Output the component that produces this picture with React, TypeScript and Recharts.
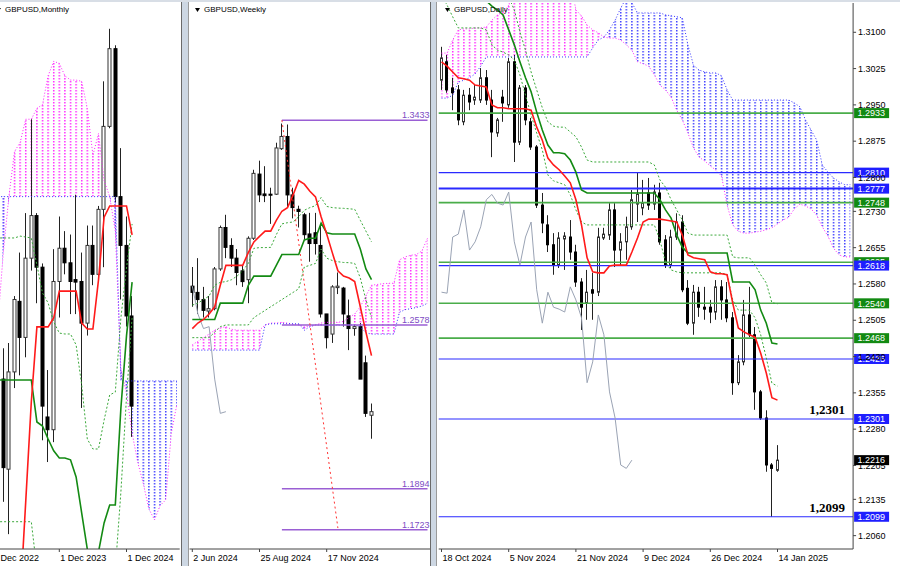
import React from 'react';
import { ComposedChart, Bar, Line, Area, XAxis, YAxis, ReferenceLine } from 'recharts';

// ---------- GBPUSD Monthly (Dec 2022 .. Jan 2025, cloud runs on to Sep 2025) ----------
const monthlyTickIdx = [0, 12, 24];
const monthlyTickLabels = ['1 Dec 2022', '1 Dec 2023', '1 Dec 2024'];
// [open, high, low, close]
const monthlyOHLC = [
  [1.2059, 1.2447, 1.1992, 1.2097],
  [1.2097, 1.2448, 1.1841, 1.2337],
  [1.2313, 1.2412, 1.1918, 1.2028],
  [1.2023, 1.2429, 1.1814, 1.2336],
  [1.2336, 1.2580, 1.2284, 1.2569],
  [1.2563, 1.2720, 1.2325, 1.2447],
  [1.2447, 1.2847, 1.2383, 1.2702],
  [1.2702, 1.3149, 1.2662, 1.2839],
  [1.2839, 1.2847, 1.2557, 1.2673],
  [1.2673, 1.2685, 1.2116, 1.2226],
  [1.2191, 1.2342, 1.2046, 1.2150],
  [1.2150, 1.2731, 1.2110, 1.2627],
  [1.2627, 1.2836, 1.2511, 1.2734],
  [1.2734, 1.2789, 1.2650, 1.2687],
  [1.2687, 1.2778, 1.2522, 1.2627],
  [1.2633, 1.2906, 1.2522, 1.2625],
  [1.2627, 1.2720, 1.2220, 1.2493],
  [1.2493, 1.2807, 1.2453, 1.2743],
  [1.2743, 1.2807, 1.2615, 1.2650],
  [1.2650, 1.2870, 1.2627, 1.2859],
  [1.2859, 1.3271, 1.2673, 1.3126],
  [1.3126, 1.3440, 1.3120, 1.3376],
  [1.3376, 1.3387, 1.2882, 1.2900],
  [1.2900, 1.3056, 1.2569, 1.2743],
  [1.2743, 1.2836, 1.2482, 1.2516],
  [1.2516, 1.2580, 1.2127, 1.2226],
];
const monthlyTenkan = [1.1550, 1.1550, 1.1550, 1.1550, 1.1550, 1.1600, 1.1917, 1.2239, 1.2481, 1.2481, 1.2481, 1.2510, 1.2596, 1.2596, 1.2596, 1.2596, 1.2493, 1.2474, 1.2474, 1.2632, 1.2834, 1.2870, 1.2870, 1.2870, 1.2870, 1.2777];
const monthlyKijun = [1.2310, 1.2310, 1.2310, 1.2310, 1.2310, 1.2310, 1.2310, 1.2310, 1.2175, 1.2162, 1.2120, 1.2082, 1.2059, 1.2059, 1.2053, 1.1998, 1.1882, 1.1766, 1.1721, 1.1757, 1.1850, 1.1908, 1.1908, 1.2220, 1.2452, 1.2625];
const monthlyDotUp = [1.2767, 1.2767, 1.2767, 1.2767, 1.2767, 1.2773, 1.2770, 1.2767, 1.2680, 1.2590, 1.2558, 1.2497, 1.2461, 1.2458, 1.2458, 1.2423, 1.2294, 1.2120, 1.2088, 1.2088, 1.2181, 1.2262, 1.2271, 1.2510, 1.2670, 1.2812];
const monthlyDotLo = [1.1854, 1.1854, 1.1854, 1.1854, 1.1854, 1.1854, 1.1854, 1.1854, 1.1700, 1.1700, 1.1700, 1.1700, 1.1700, 1.1700, 1.1700, 1.1700, 1.1700, 1.1700, 1.1700, 1.1700, 1.1700, 1.1700, 1.1700, 1.1950, 1.2255, 1.2511];
const monthlySpanA = [1.2300, 1.2487, 1.2720, 1.2900, 1.3045, 1.3074, 1.3149, 1.3149, 1.3184, 1.3196, 1.3289, 1.3335, 1.3329, 1.3289, 1.3275, 1.3275, 1.3271, 1.3184, 1.3033, 1.3103, 1.2952, 1.2900, 1.2789, 1.2348, 1.2267, 1.2139, 1.2046, 1.1976, 1.1895, 1.1860, 1.1906, 1.1924, 1.2139, 1.2232];
const monthlySpanB = [1.2900, 1.2900, 1.2900, 1.2900, 1.2900, 1.2900, 1.2900, 1.2900, 1.2900, 1.2900, 1.2900, 1.2900, 1.2900, 1.2900, 1.2900, 1.2900, 1.2900, 1.2900, 1.2900, 1.2900, 1.2900, 1.2900, 1.2900, 1.2307, 1.2307, 1.2307, 1.2307, 1.2307, 1.2307, 1.2307, 1.2307, 1.2307, 1.2307, 1.2307];

// ---------- GBPUSD Weekly (2 Jun 2024 .. 12 Jan 2025) ----------
const weeklyTickIdx = [0, 12, 24];
const weeklyTickLabels = ['2 Jun 2024', '25 Aug 2024', '17 Nov 2024'];
const weeklyOHLC = [
  [1.2740, 1.2820, 1.2654, 1.2714],
  [1.2714, 1.2857, 1.2624, 1.2684],
  [1.2684, 1.2737, 1.2609, 1.2639],
  [1.2636, 1.2699, 1.2609, 1.2646],
  [1.2646, 1.2820, 1.2639, 1.2812],
  [1.2812, 1.2993, 1.2804, 1.2985],
  [1.2985, 1.3038, 1.2857, 1.2902],
  [1.2910, 1.2940, 1.2820, 1.2857],
  [1.2857, 1.2895, 1.2744, 1.2797],
  [1.2804, 1.2827, 1.2737, 1.2759],
  [1.2767, 1.2948, 1.2669, 1.2940],
  [1.2940, 1.3226, 1.2933, 1.3211],
  [1.3208, 1.3264, 1.3091, 1.3121],
  [1.3125, 1.3241, 1.3091, 1.3118],
  [1.3124, 1.3151, 1.3000, 1.3121],
  [1.3124, 1.3339, 1.3121, 1.3317],
  [1.3314, 1.3419, 1.3309, 1.3365],
  [1.3365, 1.3415, 1.3068, 1.3121],
  [1.3121, 1.3151, 1.3023, 1.3068],
  [1.3061, 1.3076, 1.2985, 1.3052],
  [1.3038, 1.3046, 1.2933, 1.2955],
  [1.2958, 1.3046, 1.2842, 1.2918],
  [1.2963, 1.3046, 1.2872, 1.2918],
  [1.2910, 1.3000, 1.2609, 1.2624],
  [1.2624, 1.2624, 1.2480, 1.2525],
  [1.2540, 1.2744, 1.2503, 1.2737],
  [1.2734, 1.2797, 1.2707, 1.2740],
  [1.2732, 1.2737, 1.2571, 1.2624],
  [1.2616, 1.2684, 1.2473, 1.2563],
  [1.2563, 1.2578, 1.2533, 1.2571],
  [1.2571, 1.2586, 1.2352, 1.2352],
  [1.2420, 1.2450, 1.2194, 1.2209],
  [1.2201, 1.2250, 1.2103, 1.2216],
];
const weeklyTenkan = [1.2563, 1.2586, 1.2601, 1.2624, 1.2654, 1.2744, 1.2827, 1.2827, 1.2827, 1.2827, 1.2880, 1.2925, 1.2948, 1.2970, 1.2970, 1.3015, 1.3053, 1.3068, 1.3121, 1.3181, 1.3166, 1.3136, 1.3113, 1.3030, 1.2958, 1.2880, 1.2804, 1.2782, 1.2774, 1.2759, 1.2654, 1.2548, 1.2450];
const weeklyKijun = [1.2601, 1.2601, 1.2601, 1.2601, 1.2601, 1.2669, 1.2669, 1.2669, 1.2669, 1.2669, 1.2744, 1.2782, 1.2782, 1.2782, 1.2782, 1.2827, 1.2872, 1.2872, 1.2872, 1.2872, 1.2933, 1.2940, 1.2940, 1.3003, 1.2963, 1.2958, 1.2958, 1.2958, 1.2958, 1.2958, 1.2895, 1.2812, 1.2767];
const weeklyDotUp = [1.2661, 1.2669, 1.2684, 1.2699, 1.2744, 1.2756, 1.2759, 1.2767, 1.2782, 1.2804, 1.2835, 1.2898, 1.2901, 1.2901, 1.2902, 1.2955, 1.3000, 1.3005, 1.3008, 1.3030, 1.3057, 1.3068, 1.3076, 1.3110, 1.3073, 1.3068, 1.3066, 1.3065, 1.3063, 1.3061, 1.3015, 1.2970, 1.2925];
const weeklyDotLo = [1.2525, 1.2525, 1.2525, 1.2525, 1.2548, 1.2571, 1.2578, 1.2578, 1.2578, 1.2578, 1.2578, 1.2609, 1.2624, 1.2639, 1.2654, 1.2669, 1.2684, 1.2699, 1.2714, 1.2729, 1.2820, 1.2827, 1.2835, 1.2895, 1.2857, 1.2847, 1.2842, 1.2839, 1.2838, 1.2835, 1.2774, 1.2684, 1.2609];
const weeklySpanA = [1.2495, 1.2510, 1.2525, 1.2540, 1.2556, 1.2566, 1.2571, 1.2560, 1.2556, 1.2556, 1.2556, 1.2556, 1.2556, 1.2578, 1.2586, 1.2586, 1.2589, 1.2586, 1.2581, 1.2578, 1.2571, 1.2571, 1.2578, 1.2586, 1.2589, 1.2589, 1.2589, 1.2593, 1.2609, 1.2624, 1.2654, 1.2699, 1.2744, 1.2747, 1.2750, 1.2752, 1.2752, 1.2850, 1.2862, 1.2869, 1.2872, 1.2887, 1.2940];
const weeklySpanB = [1.2473, 1.2473, 1.2473, 1.2473, 1.2473, 1.2473, 1.2473, 1.2473, 1.2473, 1.2473, 1.2473, 1.2473, 1.2473, 1.2578, 1.2583, 1.2583, 1.2583, 1.2583, 1.2583, 1.2583, 1.2556, 1.2571, 1.2578, 1.2578, 1.2578, 1.2578, 1.2578, 1.2578, 1.2578, 1.2578, 1.2571, 1.2545, 1.2540, 1.2540, 1.2540, 1.2540, 1.2540, 1.2631, 1.2642, 1.2646, 1.2651, 1.2657, 1.2669];
const weeklyLevels = [1.3433, 1.2578, 1.1894, 1.1723];
const weeklyLevelFrom = 16;
const weeklyLevelTo = 42;
const weeklyTrend = [[16, 1.3433], [26, 1.1730]];

// ---------- GBPUSD Daily (18 Oct 2024 .. 14 Jan 2025) ----------
const dailyTickIdx = [0, 12, 24, 36, 48, 60];
const dailyTickLabels = ['18 Oct 2024', '5 Nov 2024', '21 Nov 2024', '9 Dec 2024', '26 Dec 2024', '14 Jan 2025'];
const dailyPriceTicks = [1.3100, 1.3025, 1.2950, 1.2875, 1.2800, 1.2730, 1.2655, 1.2580, 1.2505, 1.2430, 1.2355, 1.2280, 1.2205, 1.2135, 1.2060];
const dailyOHLC = [
  [1.3001, 1.3070, 1.2981, 1.3047],
  [1.3039, 1.3053, 1.2975, 1.2981],
  [1.2985, 1.3006, 1.2939, 1.2975],
  [1.2981, 1.2991, 1.2908, 1.2919],
  [1.2915, 1.2981, 1.2908, 1.2970],
  [1.2970, 1.2985, 1.2939, 1.2956],
  [1.2960, 1.2991, 1.2950, 1.2966],
  [1.2960, 1.3026, 1.2954, 1.3006],
  [1.3006, 1.3022, 1.2950, 1.2960],
  [1.2960, 1.2981, 1.2842, 1.2894],
  [1.2892, 1.2923, 1.2884, 1.2919],
  [1.2966, 1.2981, 1.2915, 1.2954],
  [1.2950, 1.3047, 1.2944, 1.3039],
  [1.3039, 1.3053, 1.2832, 1.2873],
  [1.2873, 1.2991, 1.2867, 1.2985],
  [1.2985, 1.2991, 1.2908, 1.2919],
  [1.2915, 1.2923, 1.2857, 1.2863],
  [1.2863, 1.2867, 1.2737, 1.2743],
  [1.2743, 1.2768, 1.2685, 1.2706],
  [1.2702, 1.2722, 1.2646, 1.2661],
  [1.2661, 1.2685, 1.2599, 1.2619],
  [1.2619, 1.2687, 1.2613, 1.2675],
  [1.2673, 1.2687, 1.2609, 1.2679],
  [1.2677, 1.2712, 1.2630, 1.2646],
  [1.2646, 1.2661, 1.2574, 1.2584],
  [1.2584, 1.2592, 1.2485, 1.2532],
  [1.2540, 1.2609, 1.2506, 1.2563],
  [1.2568, 1.2603, 1.2506, 1.2561],
  [1.2563, 1.2696, 1.2555, 1.2677],
  [1.2675, 1.2696, 1.2671, 1.2683],
  [1.2681, 1.2747, 1.2671, 1.2733],
  [1.2733, 1.2747, 1.2615, 1.2650],
  [1.2650, 1.2685, 1.2619, 1.2667],
  [1.2667, 1.2719, 1.2630, 1.2698],
  [1.2698, 1.2774, 1.2692, 1.2754],
  [1.2745, 1.2811, 1.2708, 1.2765],
  [1.2737, 1.2795, 1.2722, 1.2747],
  [1.2768, 1.2799, 1.2733, 1.2743],
  [1.2745, 1.2785, 1.2733, 1.2770],
  [1.2768, 1.2789, 1.2661, 1.2667],
  [1.2671, 1.2681, 1.2613, 1.2619],
  [1.2619, 1.2692, 1.2613, 1.2677],
  [1.2677, 1.2726, 1.2671, 1.2708],
  [1.2708, 1.2722, 1.2563, 1.2568],
  [1.2571, 1.2588, 1.2495, 1.2499],
  [1.2499, 1.2578, 1.2475, 1.2563],
  [1.2563, 1.2574, 1.2512, 1.2532],
  [1.2532, 1.2574, 1.2506, 1.2528],
  [1.2532, 1.2547, 1.2499, 1.2522],
  [1.2522, 1.2588, 1.2506, 1.2574],
  [1.2574, 1.2588, 1.2506, 1.2547],
  [1.2547, 1.2584, 1.2501, 1.2510],
  [1.2510, 1.2522, 1.2351, 1.2376],
  [1.2376, 1.2433, 1.2371, 1.2419],
  [1.2419, 1.2547, 1.2412, 1.2516],
  [1.2516, 1.2574, 1.2470, 1.2475],
  [1.2475, 1.2491, 1.2320, 1.2357],
  [1.2357, 1.2361, 1.2299, 1.2303],
  [1.2303, 1.2319, 1.2192, 1.2206],
  [1.2206, 1.2210, 1.2099, 1.2199],
  [1.2195, 1.2247, 1.2192, 1.2216],
];
const dailyTenkan = [1.3039, 1.3030, 1.3018, 1.3006, 1.3004, 1.3001, 1.2991, 1.2989, 1.2987, 1.2950, 1.2944, 1.2944, 1.2942, 1.2942, 1.2942, 1.2942, 1.2939, 1.2904, 1.2877, 1.2840, 1.2826, 1.2816, 1.2803, 1.2789, 1.2754, 1.2702, 1.2634, 1.2605, 1.2603, 1.2603, 1.2617, 1.2619, 1.2619, 1.2619, 1.2646, 1.2675, 1.2708, 1.2714, 1.2714, 1.2714, 1.2712, 1.2710, 1.2708, 1.2681, 1.2640, 1.2634, 1.2632, 1.2630, 1.2605, 1.2601, 1.2601, 1.2599, 1.2541, 1.2489, 1.2481, 1.2475, 1.2470, 1.2437, 1.2396, 1.2345, 1.2340];
const dailyKijun = [1.3200, 1.3200, 1.3200, 1.3200, 1.3200, 1.3200, 1.3200, 1.3175, 1.3165, 1.3154, 1.3146, 1.3136, 1.3105, 1.3074, 1.3039, 1.3006, 1.2977, 1.2935, 1.2898, 1.2867, 1.2851, 1.2851, 1.2849, 1.2836, 1.2811, 1.2774, 1.2768, 1.2768, 1.2768, 1.2768, 1.2768, 1.2768, 1.2768, 1.2768, 1.2768, 1.2768, 1.2768, 1.2768, 1.2768, 1.2754, 1.2733, 1.2716, 1.2681, 1.2656, 1.2644, 1.2644, 1.2644, 1.2644, 1.2644, 1.2644, 1.2644, 1.2644, 1.2584, 1.2584, 1.2584, 1.2584, 1.2568, 1.2526, 1.2499, 1.2458, 1.2456];
const dailyDotUp = [1.3187, 1.3187, 1.3187, 1.3187, 1.3187, 1.3187, 1.3187, 1.3187, 1.3187, 1.3187, 1.3187, 1.3187, 1.3173, 1.3146, 1.3101, 1.3063, 1.3018, 1.2981, 1.2944, 1.2915, 1.2906, 1.2904, 1.2904, 1.2894, 1.2884, 1.2863, 1.2836, 1.2832, 1.2832, 1.2832, 1.2832, 1.2832, 1.2832, 1.2832, 1.2832, 1.2832, 1.2832, 1.2832, 1.2826, 1.2795, 1.2780, 1.2754, 1.2733, 1.2712, 1.2685, 1.2681, 1.2681, 1.2681, 1.2681, 1.2681, 1.2681, 1.2681, 1.2636, 1.2634, 1.2634, 1.2634, 1.2619, 1.2599, 1.2582, 1.2541, 1.2539];
const dailyDotLo = [1.3177, 1.3156, 1.3132, 1.3109, 1.3109, 1.3109, 1.3109, 1.3109, 1.3105, 1.3074, 1.3063, 1.3059, 1.3053, 1.3043, 1.3012, 1.2970, 1.2929, 1.2892, 1.2857, 1.2805, 1.2793, 1.2789, 1.2785, 1.2764, 1.2733, 1.2708, 1.2702, 1.2702, 1.2702, 1.2702, 1.2702, 1.2702, 1.2702, 1.2702, 1.2702, 1.2702, 1.2702, 1.2702, 1.2702, 1.2671, 1.2625, 1.2609, 1.2605, 1.2603, 1.2603, 1.2603, 1.2603, 1.2603, 1.2603, 1.2603, 1.2603, 1.2599, 1.2547, 1.2526, 1.2526, 1.2526, 1.2510, 1.2475, 1.2427, 1.2375, 1.2369];
const dailySpanA = [1.3057, 1.3057, 1.3084, 1.3105, 1.3107, 1.3107, 1.3109, 1.3109, 1.3111, 1.3125, 1.3136, 1.3142, 1.3156, 1.3208, 1.3208, 1.3208, 1.3208, 1.3208, 1.3208, 1.3208, 1.3208, 1.3208, 1.3208, 1.3208, 1.3146, 1.3134, 1.3115, 1.3105, 1.3099, 1.3090, 1.3088, 1.3088, 1.3084, 1.3074, 1.3063, 1.3039, 1.3035, 1.3030, 1.3012, 1.2991, 1.2981, 1.2966, 1.2939, 1.2919, 1.2892, 1.2861, 1.2842, 1.2834, 1.2824, 1.2815, 1.2803, 1.2743, 1.2702, 1.2689, 1.2685, 1.2685, 1.2687, 1.2689, 1.2692, 1.2696, 1.2704, 1.2712, 1.2718, 1.2735, 1.2745, 1.2741, 1.2735, 1.2722, 1.2698, 1.2679, 1.2654, 1.2640, 1.2636, 1.2636];
const dailySpanB = [1.2964, 1.2964, 1.2970, 1.2997, 1.3001, 1.3006, 1.3014, 1.3030, 1.3049, 1.3049, 1.3049, 1.3049, 1.3049, 1.3049, 1.3049, 1.3049, 1.3049, 1.3049, 1.3049, 1.3049, 1.3049, 1.3049, 1.3049, 1.3049, 1.3049, 1.3049, 1.3049, 1.3068, 1.3084, 1.3090, 1.3105, 1.3125, 1.3150, 1.3171, 1.3161, 1.3140, 1.3140, 1.3140, 1.3140, 1.3140, 1.3136, 1.3134, 1.3132, 1.3130, 1.3074, 1.3032, 1.3022, 1.3018, 1.3016, 1.3016, 1.3010, 1.2981, 1.2960, 1.2960, 1.2960, 1.2960, 1.2960, 1.2960, 1.2960, 1.2960, 1.2960, 1.2960, 1.2960, 1.2954, 1.2946, 1.2919, 1.2898, 1.2877, 1.2826, 1.2811, 1.2799, 1.2791, 1.2785, 1.2785];
const dailyLevels = [1.2933, 1.2810, 1.2777, 1.2748, 1.2625, 1.2618, 1.2540, 1.2468, 1.2425, 1.2301, 1.2099];
const dailyLevelKind = ['g', 'b', 'b', 'g', 'g', 'b', 'g', 'g', 'b', 'b', 'b'];
const dailyLast = 1.2216;
const dailyMarked = [1.2301, 1.2099];

const GREEN_LINE = '#4aad4a';
const GREEN_TAG = '#128a12';
const BLUE_LINE = '#2a2aff';
const BLUE_TAG = '#1e1eff';
const PURPLE = '#9a5fd4';

const isAbove = (a: any, b: any) => a != null && b != null && a >= b;
const isBelow = (a: any, b: any) => a != null && b != null && a < b;

// one row per bar slot: candle range + ichimoku lines + the two cloud halves
function buildRows(count: number, ohlc: number[][], tenkan: number[], kijun: number[], dotUp: number[], dotLo: number[], spanA: number[], spanB: number[], chikouShift: number) {
  const rows: any[] = [];
  for (let i = 0; i < count; i++) {
    const c = ohlc[i];
    const a = spanA[i];
    const b = spanB[i];
    const pink = isAbove(a, b) || isAbove(spanA[i - 1], spanB[i - 1]) || isAbove(spanA[i + 1], spanB[i + 1]);
    const blue = isBelow(a, b) || isBelow(spanA[i - 1], spanB[i - 1]) || isBelow(spanA[i + 1], spanB[i + 1]);
    const later = chikouShift ? ohlc[i + chikouShift] : undefined;
    rows.push({
      idx: i,
      candle: c ? [c[2], c[1]] : null,
      o: c ? c[0] : null,
      h: c ? c[1] : null,
      l: c ? c[2] : null,
      c: c ? c[3] : null,
      tenkan: tenkan[i] ?? null,
      kijun: kijun[i] ?? null,
      dotUp: dotUp[i] ?? null,
      dotLo: dotLo[i] ?? null,
      spanA: a ?? null,
      spanB: b ?? null,
      chikou: later ? later[3] : null,
      pink: a != null && b != null && pink ? [b, a] : null,
      blue: a != null && b != null && blue ? [a, b] : null,
    });
  }
  return rows;
}

const monthlyRows = buildRows(34, monthlyOHLC, monthlyTenkan, monthlyKijun, monthlyDotUp, monthlyDotLo, monthlySpanA, monthlySpanB, 0);
const weeklyRows = buildRows(43, weeklyOHLC, weeklyTenkan, weeklyKijun, weeklyDotUp, weeklyDotLo, weeklySpanA, weeklySpanB, 26);
const dailyRows = buildRows(74, dailyOHLC, dailyTenkan, dailyKijun, dailyDotUp, dailyDotLo, dailySpanA, dailySpanB, 26);

const Candle = (props: any) => {
  const { x, y, width, height, payload, bodyW } = props;
  if (!payload || payload.o == null) return null;
  const top = Math.min(y, y + height);
  const bot = Math.max(y, y + height);
  const span = payload.h - payload.l;
  const py = (v: number) => (span > 0 ? top + ((payload.h - v) / span) * (bot - top) : top);
  const cx = Math.floor(x + width / 2) + 0.5;
  const yo = py(payload.o);
  const yc = py(payload.c);
  const up = payload.c >= payload.o;
  const bt = Math.min(yo, yc);
  const bh = Math.max(Math.abs(yc - yo), 1);
  return (
    <g>
      <line x1={cx} x2={cx} y1={top} y2={bot} stroke="#222" strokeWidth={1} />
      <rect x={cx - bodyW / 2} y={bt} width={bodyW} height={bh} fill={up ? '#fff' : '#000'} stroke={up ? '#333' : '#000'} strokeWidth={1} />
    </g>
  );
};

const TimeTick = (props: any) => {
  const { x, y, payload, tickIdx, labels } = props;
  const k = tickIdx.indexOf(payload.value);
  if (k < 0) return null;
  return (
    <g>
      <line x1={x} x2={x} y1={y} y2={y + 3} stroke="#444" />
      <text x={x + 1} y={y + 12} fontSize={9} fill="#000">{labels[k]}</text>
    </g>
  );
};

const priceTag = (text: string, bg: string, note?: string) => (p: any) => {
  const vb = p.viewBox || {};
  const right = (vb.x ?? 0) + (vb.width ?? 0);
  const y = vb.y ?? 0;
  return (
    <g>
      {note ? (
        <text x={right - 8} y={y - 5} textAnchor="end" fontSize={13} fontWeight="bold" fontFamily='"Liberation Serif", "Times New Roman", serif' fill="#000">{note}</text>
      ) : null}
      <rect x={right + 1} y={y - 5} width={35} height={10} fill={bg} />
      <text x={right + 4.5} y={y + 3.3} fontSize={9} fill="#fff">{text}</text>
    </g>
  );
};

const segmentTag = (text: string) => (p: any) => {
  const vb = p.viewBox || {};
  const right = (vb.x ?? 0) + (vb.width ?? 0);
  return (
    <text x={right + 2} y={(vb.y ?? 0) - 2} textAnchor="end" fontSize={9} fill="#7d4cc4">{text}</text>
  );
};

function IchimokuPanel(props: any) {
  const { rows, width, margin, domain, tickIdx, tickLabels, id, bodyW, priceTicks, extra } = props;
  // dotted hatch: one dotted column per bar slot, lined up with the bar centres
  const hatchX = margin.left + 2.8 - 0.75;
  return (
    <ComposedChart width={width} height={566} data={rows} margin={margin}>
      <defs>
        <pattern id={id + 'Pink'} x={hatchX} y={0} width={5.6} height={3} patternUnits="userSpaceOnUse">
          <rect x={0} y={0} width={1.5} height={1.5} fill="#ff30ff" />
        </pattern>
        <pattern id={id + 'Blue'} x={hatchX} y={0} width={5.6} height={3} patternUnits="userSpaceOnUse">
          <rect x={0} y={0} width={1.5} height={1.5} fill="#4040ff" />
        </pattern>
      </defs>
      <XAxis
        dataKey="idx"
        type="category"
        ticks={tickIdx}
        interval={0}
        tickSize={0}
        tickMargin={0}
        tickLine={false}
        axisLine={{ stroke: '#444' }}
        height={17}
        tick={<TimeTick tickIdx={tickIdx} labels={tickLabels} />}
      />
      {priceTicks ? (
        <YAxis
          orientation="right"
          type="number"
          domain={domain}
          allowDataOverflow
          ticks={priceTicks}
          interval={0}
          width={46.9}
          tickSize={3}
          tickMargin={2}
          axisLine={{ stroke: '#444' }}
          tickLine={{ stroke: '#444' }}
          tick={{ fontSize: 9, fill: '#000' }}
          tickFormatter={(v: number) => v.toFixed(4)}
        />
      ) : (
        <YAxis hide type="number" domain={domain} allowDataOverflow />
      )}
      <Area dataKey="pink" type="linear" stroke="none" fill={`url(#${id}Pink)`} fillOpacity={1} isAnimationActive={false} />
      <Area dataKey="blue" type="linear" stroke="none" fill={`url(#${id}Blue)`} fillOpacity={1} isAnimationActive={false} />
      <Line dataKey="spanA" stroke="#ff22ff" strokeWidth={1} strokeDasharray="1 2" dot={false} activeDot={false} isAnimationActive={false} />
      <Line dataKey="spanB" stroke="#3535ff" strokeWidth={1} strokeDasharray="1 2" dot={false} activeDot={false} isAnimationActive={false} />
      {extra}
      <Line dataKey="dotUp" stroke="#3aa83a" strokeWidth={1} strokeDasharray="2 2" dot={false} activeDot={false} isAnimationActive={false} />
      <Line dataKey="dotLo" stroke="#3aa83a" strokeWidth={1} strokeDasharray="2 2" dot={false} activeDot={false} isAnimationActive={false} />
      <Line dataKey="chikou" stroke="#9aa3b4" strokeWidth={1} dot={false} activeDot={false} isAnimationActive={false} />
      <Line dataKey="kijun" stroke="#138a13" strokeWidth={1.6} dot={false} activeDot={false} isAnimationActive={false} />
      <Line dataKey="tenkan" stroke="#ff1a1a" strokeWidth={1.6} dot={false} activeDot={false} isAnimationActive={false} />
      <Bar dataKey="candle" isAnimationActive={false} shape={(p: any) => <Candle {...p} bodyW={bodyW} />} />
    </ComposedChart>
  );
}

const Title = ({ left, text }: { left: number; text: string }) => (
  <div style={{ position: 'absolute', left, top: 5, height: 9, fontSize: 8, lineHeight: '9px', color: '#000', whiteSpace: 'nowrap', pointerEvents: 'none' }}>
    <svg width={5} height={4} style={{ marginRight: 4, verticalAlign: 'middle' }}>
      <polygon points="0,0 5,0 2.5,4" fill="#000" />
    </svg>
    {text}
  </div>
);

const separator = (left: number, width: number) => (
  <div
    style={{
      position: 'absolute', left, top: 0, width, height: 566, boxSizing: 'border-box',
      background: '#cdd7e3', borderLeft: '1px solid #6a6a6a', borderRight: '1px solid #9a9a9a',
    }}
  />
);

export default function App() {
  const weeklyExtra = [
    ...weeklyLevels.map((v, i) => (
      <ReferenceLine
        key={'wl' + i}
        segment={[{ x: weeklyLevelFrom, y: v }, { x: weeklyLevelTo, y: v }]}
        stroke={PURPLE}
        strokeWidth={1.5}
        label={segmentTag(v.toFixed(4))}
      />
    )),
    <ReferenceLine
      key="wtrend"
      segment={[{ x: weeklyTrend[0][0], y: weeklyTrend[0][1] }, { x: weeklyTrend[1][0], y: weeklyTrend[1][1] }]}
      stroke="#ff3030"
      strokeWidth={1}
      strokeDasharray="2 3"
    />,
  ];

  const dailyExtra = [
    ...dailyLevels.map((v, i) => {
      const g = dailyLevelKind[i] === 'g';
      const note = dailyMarked.includes(v) ? v.toFixed(4).replace('.', ',') : undefined;
      return (
        <ReferenceLine
          key={'dl' + i}
          y={v}
          stroke={g ? GREEN_LINE : BLUE_LINE}
          strokeWidth={g ? 1.6 : v === 1.2777 ? 2 : 1.2}
          label={priceTag(v.toFixed(4), g ? GREEN_TAG : BLUE_TAG, note)}
        />
      );
    }),
    <ReferenceLine key="last" y={dailyLast} stroke="none" label={priceTag(dailyLast.toFixed(4), '#000')} />,
  ];

  return (
    <div
      style={{
        position: 'absolute', left: 0, top: 0, width: 900, height: 566, overflow: 'hidden',
        background: '#fff', fontFamily: '"Liberation Sans", Arial, sans-serif',
      }}
    >
      <div style={{ position: 'absolute', left: 0, top: 0, width: 181, height: 566, overflow: 'hidden' }}>
        <div style={{ position: 'absolute', left: -11, top: 0 }}>
          <IchimokuPanel
            rows={monthlyRows}
            width={192}
            margin={{ top: 3, right: 1.3, bottom: 0, left: 0.3 }}
            domain={[1.17662, 1.3523]}
            tickIdx={monthlyTickIdx}
            tickLabels={monthlyTickLabels}
            id="m"
            bodyW={3}
          />
        </div>
        <Title left={-4} text="GBPUSD,Monthly" />
      </div>

      <div style={{ position: 'absolute', left: 189, top: 0, width: 242, height: 566 }}>
        <IchimokuPanel
          rows={weeklyRows}
          width={242}
          margin={{ top: 3, right: 0.7, bottom: 0, left: 0.5 }}
          domain={[1.16426, 1.39223]}
          tickIdx={weeklyTickIdx}
          tickLabels={weeklyTickLabels}
          id="w"
          bodyW={3}
          extra={weeklyExtra}
        />
        <Title left={6} text="GBPUSD,Weekly" />
      </div>

      <div style={{ position: 'absolute', left: 437, top: 0, width: 463, height: 566 }}>
        <IchimokuPanel
          rows={dailyRows}
          width={463}
          margin={{ top: 3, right: 0, bottom: 0, left: 1.7 }}
          domain={[1.20324, 1.31605]}
          tickIdx={dailyTickIdx}
          tickLabels={dailyTickLabels}
          id="d"
          bodyW={2}
          priceTicks={dailyPriceTicks}
          extra={dailyExtra}
        />
        <Title left={8} text="GBPUSD,Daily" />
      </div>

      {separator(181, 8)}
      {separator(430, 7)}
      <div style={{ position: 'absolute', left: 0, top: 0, width: 900, height: 2, background: '#d8dee6' }} />
    </div>
  );
}
